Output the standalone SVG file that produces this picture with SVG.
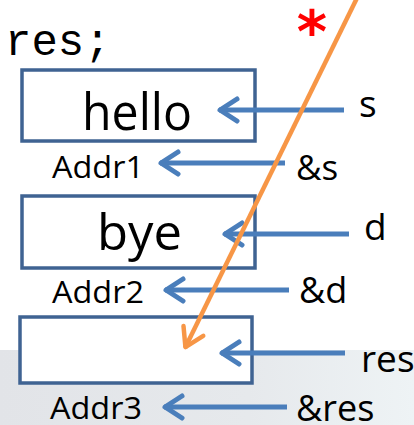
<svg xmlns="http://www.w3.org/2000/svg" width="414" height="425" viewBox="0 0 414 425">
<style>
.box{fill:#ffffff;stroke:#3f6392;stroke-width:3.5}
.blue{stroke:#4a7ebb;stroke-width:5;fill:none}
.orange{stroke:#f79646;stroke-width:4.5;fill:none}
.lbl{font-family:"Open Sans","Liberation Sans",sans-serif;fill:#000}
.code{font-family:"Liberation Mono","DejaVu Sans Mono",monospace;fill:#000}
</style>
<defs>
<linearGradient id="bg" x1="0" y1="0" x2="1" y2="0">
<stop offset="0" stop-color="#e2e4e8"/>
<stop offset="0.6" stop-color="#e6e9ec"/>
<stop offset="1" stop-color="#eef3f5"/>
</linearGradient>
<marker id="ab" markerUnits="userSpaceOnUse" markerWidth="40" markerHeight="40" viewBox="-30 -20 40 40" refX="0" refY="0" orient="auto" overflow="visible">
<path d="M-18,-11 L-1,0 L-18,11" fill="none" stroke="#4a7ebb" stroke-width="5" stroke-linecap="round" stroke-linejoin="round"/>
</marker>
<marker id="ao" markerUnits="userSpaceOnUse" markerWidth="40" markerHeight="40" viewBox="-30 -20 40 40" refX="0" refY="0" orient="auto" overflow="visible">
<path d="M-19,-11 L-1,0 L-19,11" fill="none" stroke="#f79646" stroke-width="4.5" stroke-linecap="round" stroke-linejoin="round"/>
</marker>
</defs>
<rect x="0" y="350" width="414" height="75" fill="url(#bg)"/>
<text class="code" x="5" y="55" font-size="44">res;</text>
<g id="mem1">
<rect class="box" x="22" y="70" width="233" height="71"/>
<text class="lbl" x="82" y="130" font-size="52" textLength="110" lengthAdjust="spacingAndGlyphs">hello</text>
<text class="lbl" x="52" y="178" font-size="31" textLength="92" lengthAdjust="spacingAndGlyphs">Addr1</text>
</g>
<g id="mem2">
<rect class="box" x="22" y="196" width="233" height="72"/>
<text class="lbl" x="97" y="250" font-size="50" textLength="85" lengthAdjust="spacingAndGlyphs">bye</text>
<text class="lbl" x="52" y="303" font-size="31" textLength="92" lengthAdjust="spacingAndGlyphs">Addr2</text>
</g>
<g id="mem3">
<rect class="box" x="20" y="317" width="232" height="66"/>
<text class="lbl" x="50" y="419" font-size="31" textLength="92" lengthAdjust="spacingAndGlyphs">Addr3</text>
</g>
<g id="vars">
<text class="lbl" x="359" y="117" font-size="37">s</text>
<text class="lbl" x="296" y="180" font-size="35">&amp;s</text>
<text class="lbl" x="364" y="240" font-size="37">d</text>
<text class="lbl" x="299" y="303" font-size="36">&amp;d</text>
<text class="lbl" x="361" y="372" font-size="37">res</text>
<text class="lbl" x="296" y="421" font-size="36">&amp;res</text>
</g>
<g id="connectors">
<line class="blue" x1="344" y1="110" x2="219" y2="110" marker-end="url(#ab)"/>
<line class="blue" x1="285" y1="163" x2="160" y2="163" marker-end="url(#ab)"/>
<line class="blue" x1="349" y1="234" x2="224" y2="234" marker-end="url(#ab)"/>
<line class="blue" x1="289" y1="290" x2="165" y2="290" marker-end="url(#ab)"/>
<line class="blue" x1="345" y1="353" x2="221" y2="353" marker-end="url(#ab)"/>
<line class="blue" x1="287" y1="407" x2="164" y2="407" marker-end="url(#ab)"/>
<line class="orange" x1="357" y1="-2" x2="185" y2="348" marker-end="url(#ao)"/>
</g>
<text x="312" y="52" font-size="58" font-weight="bold" text-anchor="middle" fill="#ff0000" font-family="'DejaVu Sans',sans-serif">*</text>
</svg>
